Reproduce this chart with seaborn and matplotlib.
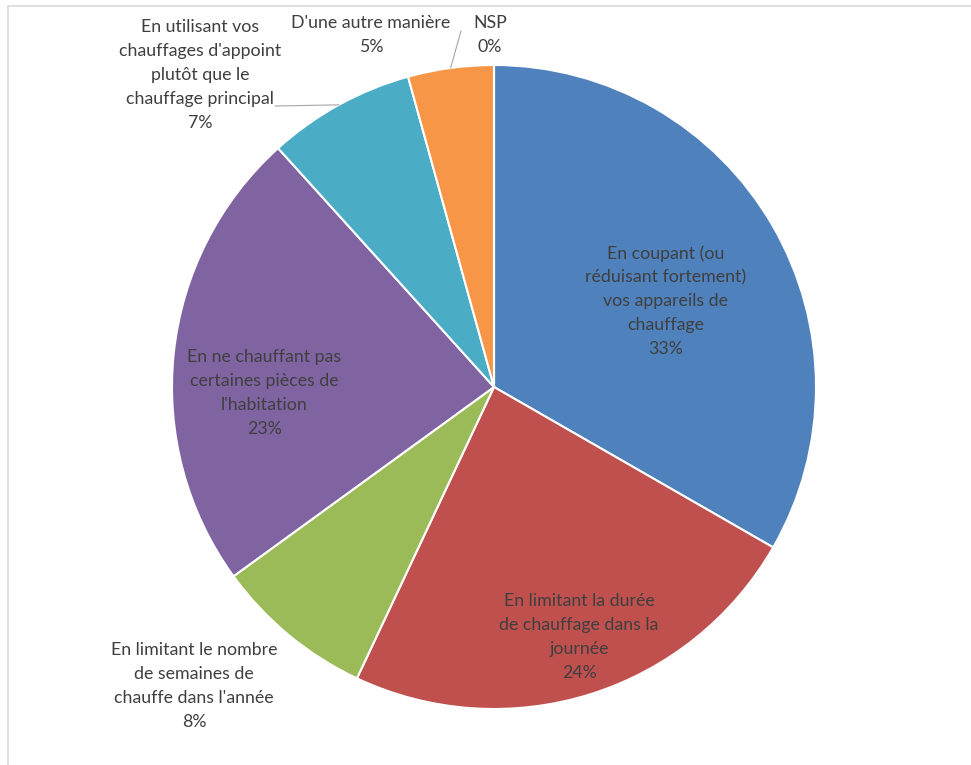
import numpy as np
import matplotlib.pyplot as plt
import seaborn as sns

# ------------------------------------------------------------
# DATA
# ------------------------------------------------------------
categories = [
    "En coupant (ou\nréduisant fortement)\nvos appareils de\nchauffage",
    "En limitant la durée\nde chauffage dans la\njournée",
    "En limitant le nombre\nde semaines de\nchauffe dans l'année",
    "En ne chauffant pas\ncertaines pièces de\nl'habitation",
    "En utilisant vos\nchauffages d'appoint\nplutôt que le\nchauffage principal",
    "D'une autre manière",
    "NSP",
]
shares = [33.3, 23.7, 8.0, 23.3, 7.4, 4.3, 0.0]
pct_labels = ["33%", "24%", "8%", "23%", "7%", "5%", "0%"]
colors = ["#4F81BD", "#C0504D", "#9BBB59", "#8064A2", "#4BACC6", "#F79646", "#2C4D75"]

# label centres (data units, pie radius = 1)
label_xy = [(0.534, 0.267), (0.264, -0.776), (-0.932, -0.929), (-0.714, -0.019),
            (-0.913, 0.969), (-0.382, 1.093), (-0.012, 1.093)]

sns.set_theme(style="white")
plt.rcParams['font.family'] = ['Lato', 'DejaVu Sans']

W, H, DPI = 971, 765, 100
cx, cy, R = 494, 387, 322

fig = plt.figure(figsize=(W / DPI, H / DPI), dpi=DPI)
ax = fig.add_axes([0, 0, 1, 1])

wedges, _ = ax.pie(shares, colors=colors, startangle=90, counterclock=False,
                   radius=1, wedgeprops=dict(edgecolor='white', linewidth=1.5))
ax.set_aspect('auto')
ax.set_xlim(-cx / R, (W - cx) / R)
ax.set_ylim((cy - H) / R, cy / R)
ax.axis('off')

txt_color = "#3f3f3f"
for cat, pct, (x, y) in zip(categories, pct_labels, label_xy):
    ax.text(x, y, f"{cat}\n{pct}", ha='center', va='center', fontsize=12.8,
            color=txt_color, linespacing=1.6)

# leader lines
def mid_point(w):
    t = np.deg2rad((w.theta1 + w.theta2) / 2)
    return np.cos(t), np.sin(t)

px = lambda p: ((p[0] - cx) / R, (cy - p[1]) / R)
mx, my = mid_point(wedges[4])
sx, sy = px((275, 106))
ax.plot([sx, mx], [sy, my], color="#a6a6a6", lw=0.8)
mx, my = mid_point(wedges[5])
sx, sy = px((461, 31))
ax.plot([sx, mx], [sy, my], color="#a6a6a6", lw=0.8)

# chart area border (top/left visible)
fig.add_artist(plt.Line2D([8 / W, 1], [1 - 6 / H, 1 - 6 / H], color="#d9d9d9", lw=1.2))
fig.add_artist(plt.Line2D([8 / W, 8 / W], [0, 1 - 6 / H], color="#d9d9d9", lw=1.2))

plt.savefig("out.png", dpi=DPI)
